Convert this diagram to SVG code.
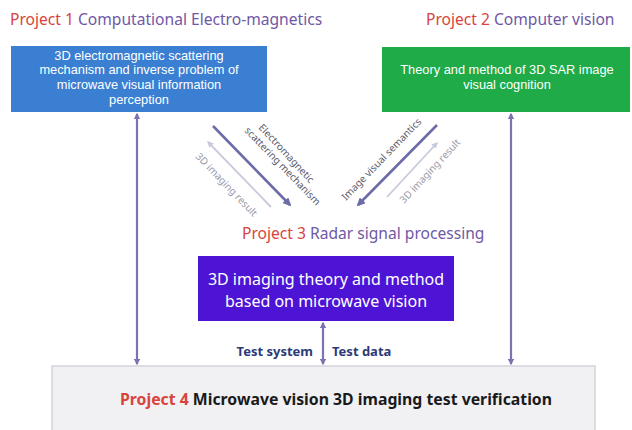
<svg xmlns="http://www.w3.org/2000/svg" width="632" height="430" viewBox="0 0 632 430">
  <style>
    text { font-family: "Noto Sans", "Open Sans", "Liberation Sans", sans-serif; }
    .title { font-size: 15.6px; fill: #6f58a6; }
    .red { fill: #d8443c; }
    .boxtxt { fill: #ffffff; font-size: 13px; text-anchor: middle; }
    .tight { font-family: "Liberation Sans", Arial, sans-serif; font-size: 12.8px; }
    .dark { stroke: #6c6ca8; stroke-width: 2.6; fill: none; }
    .light { stroke: #c9c9dd; stroke-width: 1.8; fill: none; }
    .vert { stroke: #7a74b0; stroke-width: 2.2; fill: none; }
    .dlab { font-size: 10px; fill: #5a5a6a; }
    .llab { font-size: 10px; fill: #9a9aa8; }
    .test { font-size: 13px; font-weight: bold; fill: #2c3a78; }
  </style>
  <defs>
    <marker id="hd" viewBox="0 0 10 10" refX="8" refY="5" markerWidth="3.2" markerHeight="3.2" orient="auto-start-reverse">
      <path d="M0,0 L10,5 L0,10 z" fill="#6c6ca8"/>
    </marker>
    <marker id="hl" viewBox="0 0 10 10" refX="8" refY="5" markerWidth="3.5" markerHeight="3.5" orient="auto-start-reverse">
      <path d="M0,0 L10,5 L0,10 z" fill="#c9c9dd"/>
    </marker>
    <marker id="hv" viewBox="0 0 10 10" refX="8" refY="5" markerWidth="3" markerHeight="3" orient="auto-start-reverse">
      <path d="M0,0 L10,5 L0,10 z" fill="#7a74b0"/>
    </marker>
  </defs>

  <rect width="632" height="430" fill="#ffffff"/>

  <!-- section titles -->
  <text class="title" x="10" y="25"><tspan class="red">Project 1</tspan> Computational Electro-magnetics</text>
  <text class="title" x="426" y="25"><tspan class="red">Project 2</tspan> Computer vision</text>
  <text class="title" x="242" y="239"><tspan class="red">Project 3</tspan> Radar signal processing</text>

  <g id="node-p1">
    <rect x="11" y="46" width="256" height="66" fill="#3a7fd2"/>
    <text class="boxtxt tight" x="139" y="59.5">3D electromagnetic scattering</text>
    <text class="boxtxt tight" x="139" y="74.2">mechanism and inverse problem of</text>
    <text class="boxtxt tight" x="139" y="88.9">microwave visual information</text>
    <text class="boxtxt tight" x="139" y="103.6">perception</text>
  </g>

  <g id="node-p2">
    <rect x="382" y="47" width="248" height="65" fill="#1eab48"/>
    <text class="boxtxt tight" x="507" y="74">Theory and method of 3D SAR image</text>
    <text class="boxtxt tight" x="507" y="88.7">visual cognition</text>
  </g>

  <g id="node-p3">
    <rect x="198" y="256" width="256" height="65" fill="#4d14d6"/>
    <text class="boxtxt" x="326" y="285" style="font-size:16px">3D imaging theory and method</text>
    <text class="boxtxt" x="326" y="307" style="font-size:16px">based on microwave vision</text>
  </g>

  <g id="node-p4">
    <rect x="52" y="366" width="543" height="66" fill="#f1f1f4" stroke="#d4d4da" stroke-width="1.5"/>
    <text x="120" y="405" style="font-size:15.8px;font-weight:bold;fill:#1a1a1a"><tspan class="red">Project 4</tspan> Microwave vision 3D imaging test verification</text>
  </g>

  <g id="connectors">
    <!-- left pair -->
    <line class="dark" x1="213" y1="126" x2="290" y2="205" marker-end="url(#hd)"/>
    <line class="light" x1="208" y1="142" x2="271" y2="207" marker-start="url(#hl)"/>
    <!-- right pair -->
    <line class="dark" x1="437" y1="125" x2="358" y2="205" marker-end="url(#hd)"/>
    <line class="light" x1="437" y1="143" x2="387" y2="197" marker-start="url(#hl)"/>
    <!-- vertical links to test verification -->
    <line class="vert" x1="137" y1="114" x2="137" y2="364" marker-start="url(#hv)" marker-end="url(#hv)"/>
    <line class="vert" x1="511" y1="114" x2="511" y2="364" marker-start="url(#hv)" marker-end="url(#hv)"/>
    <line class="vert" x1="323" y1="323" x2="323" y2="364" marker-start="url(#hv)" marker-end="url(#hv)"/>

    <text class="dlab" transform="translate(258,128) rotate(47)">Electromagnetic</text>
    <text class="dlab" transform="translate(244,131) rotate(46)">scattering mechanism</text>
    <text class="llab" transform="translate(195,157) rotate(46)">3D imaging result</text>
    <text class="dlab" transform="translate(346,201) rotate(-46)">Image visual semantics</text>
    <text class="llab" transform="translate(404,204) rotate(-47)">3D imaging result</text>

    <text class="test" x="313" y="356" text-anchor="end">Test system</text>
    <text class="test" x="332" y="356">Test data</text>
  </g>
</svg>
